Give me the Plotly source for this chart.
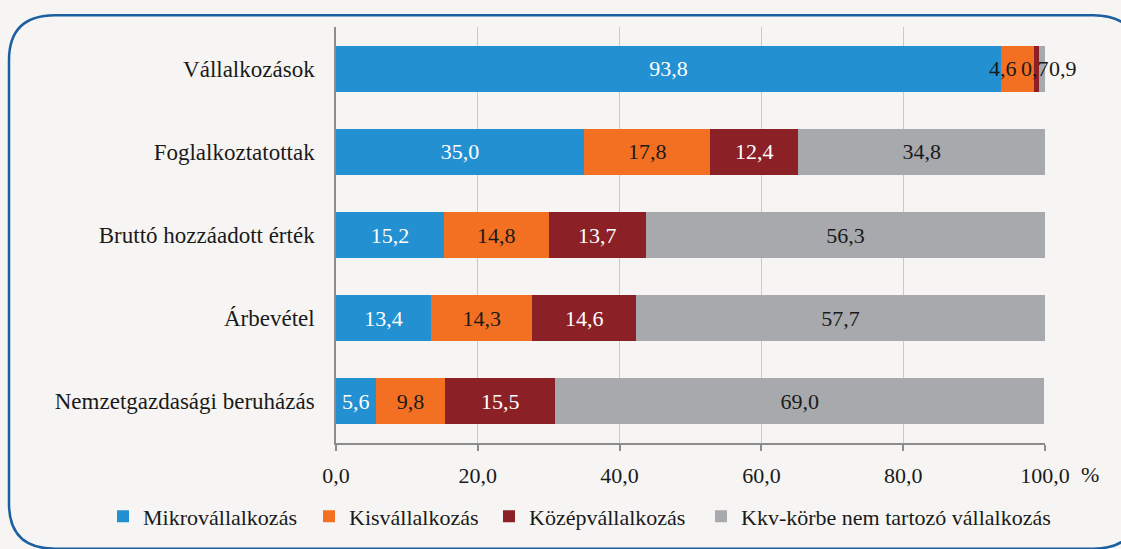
import plotly.graph_objects as go

categories = ["Vállalkozások", "Foglalkoztatottak", "Bruttó hozzáadott érték",
              "Árbevétel", "Nemzetgazdasági beruházás"]
series_names = ["Mikrovállalkozás", "Kisvállalkozás", "Középvállalkozás",
                "Kkv-körbe nem tartozó vállalkozás"]
mikro = [93.8, 35.0, 15.2, 13.4, 5.6]
kis = [4.6, 17.8, 14.8, 14.3, 9.8]
kozep = [0.7, 12.4, 13.7, 14.6, 15.5]
nem_kkv = [0.9, 34.8, 56.3, 57.7, 69.0]
x_ticks = [0, 20, 40, 60, 80, 100]

colors = ["#2390d2", "#f37022", "#8b2126", "#a7a9ac"]
text_colors = ["white", "#1a1a1a", "white", "#1a1a1a"]
FONT = "Liberation Serif, Times New Roman, serif"
FS = 22

def fmt(v):
    return f"{v:.1f}".replace(".", ",")

legend_ids = ["legend", "legend2", "legend3", "legend4"]
legend_text_px = [141, 347, 527, 739]   # left edge of each legend entry's text

series = [mikro, kis, kozep, nem_kkv]
fig = go.Figure()
for i, (name, vals) in enumerate(zip(series_names, series)):
    texts = []
    for j, v in enumerate(vals):
        # small segments of the first row are labelled separately
        if j == 0 and i > 0:
            texts.append("")
        else:
            texts.append(fmt(v))
    fig.add_trace(go.Bar(
        y=categories, x=vals, name=name, orientation="h",
        marker=dict(color=colors[i], line=dict(width=0)),
        text=texts, textposition="inside", insidetextanchor="middle",
        textfont=dict(family=FONT, size=FS, color=text_colors[i]),
        constraintext="none", cliponaxis=False, legend=legend_ids[i],
    ))

# labels for the thin segments of the first row (offset like the original)
shifts = [-14, -1, 21]
cum = mikro[0]
for k, vals in enumerate([kis, kozep, nem_kkv]):
    v = vals[0]
    fig.add_annotation(x=cum + v / 2, y=categories[0], text=fmt(v),
                       showarrow=False, xshift=shifts[k],
                       font=dict(family=FONT, size=FS, color="#1a1a1a"))
    cum += v

# percent sign after the axis
fig.add_annotation(x=x_ticks[-1], y=0, xref="x", yref="paper", text="%",
                   showarrow=False, xshift=45, yshift=-31, yanchor="middle",
                   font=dict(family=FONT, size=FS, color="#1a1a1a"))

# rounded frame (pixel -> paper conversion)
L, T, W, H = 336, 27, 709, 425
def px(x): return (x - L) / W
def py(y): return (T + H - y) / H
x0, x1, y0, y1, r = 9, 1139, 15, 560, 46
path = (f"M {px(x0 + r)} {py(y0)} L {px(x1 - r)} {py(y0)} "
        f"Q {px(x1)} {py(y0)} {px(x1)} {py(y0 + r)} "
        f"L {px(x1)} {py(y1 - r)} Q {px(x1)} {py(y1)} {px(x1 - r)} {py(y1)} "
        f"L {px(x0 + r)} {py(y1)} Q {px(x0)} {py(y1)} {px(x0)} {py(y1 - r)} "
        f"L {px(x0)} {py(y0 + r)} Q {px(x0)} {py(y0)} {px(x0 + r)} {py(y0)} Z")
fig.add_shape(type="path", path=path, xref="paper", yref="paper",
              line=dict(color="#1b5fa0", width=2.5), layer="below")

legends = {}
for lid, tx in zip(legend_ids, legend_text_px):
    legends[lid] = dict(orientation="h", x=px(tx - 38), xanchor="left",
                        y=py(527), yanchor="middle",
                        font=dict(family=FONT, size=FS, color="#1a1a1a"),
                        itemwidth=30, bgcolor="rgba(0,0,0,0)")

fig.update_layout(
    barmode="stack", bargap=0.447,
    width=1121, height=549,
    margin=dict(l=L, r=1121 - L - W, t=T, b=549 - T - H),
    paper_bgcolor="#f6f5f3", plot_bgcolor="#f6f5f3",
    separators=", ",
    font=dict(family=FONT, size=FS, color="#1a1a1a"),
    showlegend=True,
    xaxis=dict(range=[0, 100], tickvals=x_ticks, tickformat=".1f",
               showgrid=True, gridcolor="#c9c9c9", gridwidth=1,
               zeroline=False, showline=True, linecolor="#8c8c8c", linewidth=1.5,
               ticks="outside", ticklen=6, tickcolor="#8c8c8c", tickwidth=1.5,
               ticklabelstandoff=6,
               tickfont=dict(family=FONT, size=FS, color="#1a1a1a")),
    yaxis=dict(autorange="reversed", showline=True, linecolor="#8c8c8c",
               linewidth=1.5, showgrid=False, ticks="", ticklabelstandoff=15,
               tickfont=dict(family=FONT, size=23, color="#1a1a1a")),
    **legends,
)

fig.write_html("out.html", post_script="document.body.style.margin='0';",
               config={"displayModeBar": False})
